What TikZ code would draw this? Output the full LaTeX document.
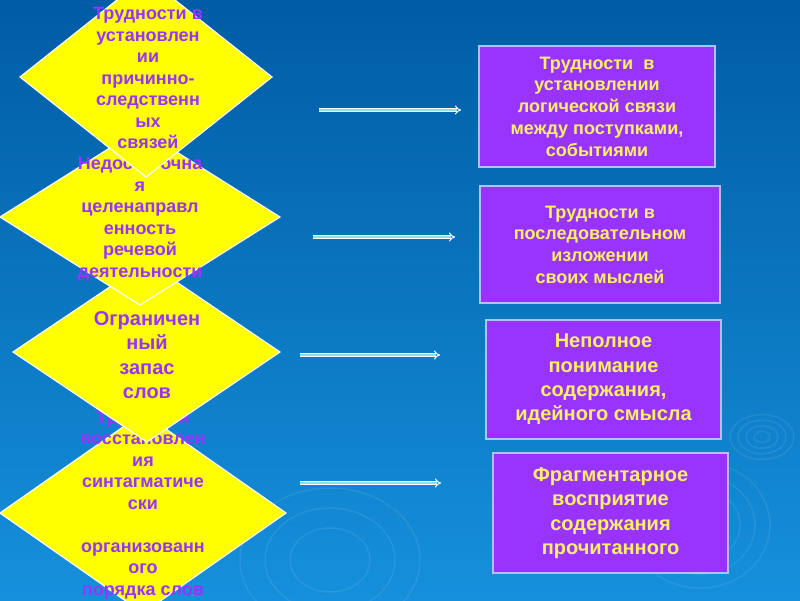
\documentclass[tikz,border=0pt]{standalone}
\usepackage{fontspec}
\setmainfont{Liberation Sans}
\usetikzlibrary{arrows.meta}
\definecolor{bgtop}{RGB}{0,92,164}
\definecolor{bgbot}{RGB}{22,144,220}
\definecolor{dyel}{RGB}{255,255,0}
\definecolor{vio}{RGB}{153,51,255}
\definecolor{txtyel}{RGB}{255,240,100}
\definecolor{boxedge}{RGB}{180,190,250}
\definecolor{arrfill}{RGB}{140,225,225}
\begin{document}
\begin{tikzpicture}[x=1pt,y=-1pt,
  dia/.style={fill=dyel, draw=white, line width=1.2pt, line join=miter},
  dtext/.style={align=center, text=vio, font=\bfseries\fontsize{18}{21.5}\selectfont, inner sep=0pt},
  dtextbig/.style={dtext, font=\bfseries\fontsize{20}{24.3}\selectfont},
  pbox/.style={fill=vio, draw=boxedge, line width=1.5pt, align=center, text=txtyel, font=\bfseries\fontsize{18}{21.7}\selectfont, inner sep=0pt},
  pboxbig/.style={pbox, font=\bfseries\fontsize{20}{24.3}\selectfont},
  conn/.style={draw=white, line width=1pt, double=arrfill, double distance=2pt, -{Implies}},
  ripple/.style={draw=white, opacity=0.08, line width=1.5pt}]
\useasboundingbox (0,0) rectangle (800,600);
\clip (0,0) rectangle (800,600);
\shade[top color=bgtop, bottom color=bgbot] (0,0) rectangle (800,600);
% background ripples
\foreach \r in {8,16,24,32} \draw[ripple] (762,437) ellipse ({\r} and {\r*0.7});
\foreach \r in {40,55,70} \draw[ripple] (700,525) ellipse ({\r} and {\r*0.9});
\foreach \r in {40,65,90} \draw[ripple] (330,560) ellipse ({\r} and {\r*0.8});
% diamond 4
\draw[dia] (143,413) -- (286,513) -- (143,613) -- (0,513) -- cycle;
\node[dtext] (t4) at (143,505) {Трудности\\восстановлен\\ия\\синтагматиче\\ски\\[21.5pt]организованн\\ого\\порядка слов};
% diamond 3
\draw[dia] (147,262) -- (280,352) -- (147,442) -- (13,352) -- cycle;
\node[dtextbig] (t3) at (147,355) {Ограничен\\ный\\запас\\слов};
% diamond 2
\draw[dia] (140,129) -- (280,217) -- (140,305) -- (0,217) -- cycle;
\node[dtext] (t2) at (140,219) {Недостаточна\\я\\целенаправл\\енность\\речевой\\деятельности};
% diamond 1
\draw[dia] (146,-23) -- (272,77) -- (146,177) -- (20,77) -- cycle;
\node[dtext] (t1) at (148,78) {Трудности в\\установлен\\ии\\причинно-\\следственн\\ых\\связей};
% boxes
\node[pbox, minimum width=236pt, minimum height=121pt] (b1) at (597,106.5) {Трудности~~в\\установлении\\логической связи\\между поступками,\\событиями};
\node[pbox, minimum width=240pt, minimum height=117pt] (b2) at (600,244.5) {Трудности в\\последовательном\\изложении\\своих мыслей};
\node[pboxbig, minimum width=235pt, minimum height=119pt] (b3) at (603.5,379.5) {Неполное\\понимание\\содержания,\\идейного смысла};
\node[pboxbig, minimum width=235pt, minimum height=120pt] (b4) at (610.5,513) {Фрагментарное\\восприятие\\содержания\\прочитанного};
% arrows
\coordinate (a1s) at (319,110); \coordinate (a1e) at (461,110);
\coordinate (a2s) at (313,237); \coordinate (a2e) at (455,237);
\coordinate (a3s) at (300,355); \coordinate (a3e) at (440,355);
\coordinate (a4s) at (300,483); \coordinate (a4e) at (441,483);
\draw[conn] (a1s) -- (a1e);
\draw[conn] (a2s) -- (a2e);
\draw[conn] (a3s) -- (a3e);
\draw[conn] (a4s) -- (a4e);
\end{tikzpicture}
\end{document}
